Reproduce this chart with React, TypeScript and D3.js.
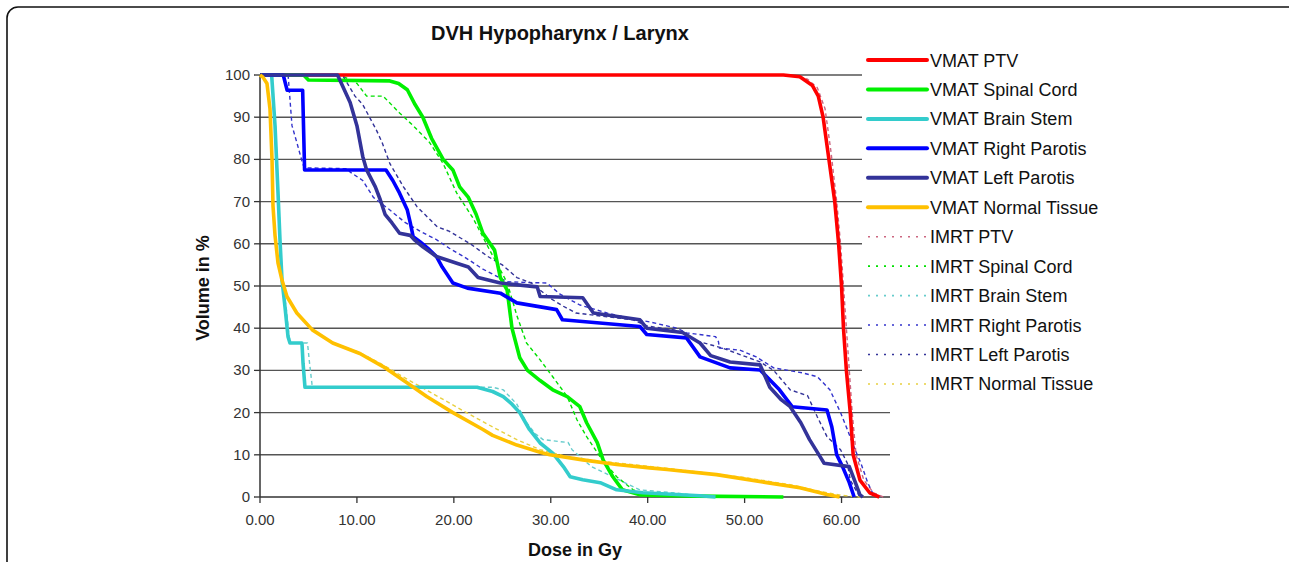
import React from "react";
import * as d3 from "d3";

type P = [number, number];

const xTicks = [0, 10, 20, 30, 40, 50, 60];
const yTicks = [0, 10, 20, 30, 40, 50, 60, 70, 80, 90, 100];

const vmatPtv: P[] = [[0,100],[54,100],[55.7,99.6],[57.0,97.5],[57.6,95],[58.1,90],[58.7,80],[59.3,70],[59.7,60],[60.0,50],[60.2,40],[60.5,30],[60.9,20],[61.2,10],[61.9,4],[62.9,1],[63.9,0]];
const vmatSpinal: P[] = [[0,100],[4.5,100],[5.0,98.8],[13.4,98.6],[14.3,98],[15.2,96.5],[16.0,93],[16.8,90],[17.7,85],[18.9,80],[19.9,77.5],[20.6,73.5],[21.5,71],[22.3,67],[23.0,62.5],[24.2,58.5],[24.8,52],[25.5,49],[26.0,40],[26.8,33],[27.6,30],[28.9,27.6],[30.2,25.4],[31.7,23.8],[33.0,21.4],[33.7,17.6],[34.8,12.9],[35.4,8.8],[36.4,4.8],[37.4,1.7],[39.2,0.5],[45,0.2],[54,0]];
const vmatBrain: P[] = [[0,100],[1.2,100],[1.55,88],[1.86,72],[2.06,61],[2.27,51.4],[2.58,45],[2.89,38],[3.09,36.5],[4.33,36.5],[4.44,31.7],[4.64,26],[22.4,26],[24.0,25],[25.1,23.8],[26.0,22],[26.8,20],[27.8,16],[28.9,12.8],[30.2,10.4],[31.3,7.2],[32.0,4.8],[33.3,4.1],[35.1,3.4],[36.8,1.7],[39.5,1],[45.4,0.3],[47,0]];
const vmatRightPar: P[] = [[0,100],[2.4,100],[2.8,96.4],[4.4,96.4],[4.6,77.5],[13.0,77.5],[13.7,75],[14.4,72],[15.2,68],[15.5,65],[15.8,61.7],[16.5,60.5],[17.3,59],[18.2,57],[18.8,54.5],[19.9,50.7],[21.4,49.5],[24.8,48.3],[26.5,46],[30.6,44.4],[31.2,42],[39.2,40.4],[39.9,38.5],[44.0,37.7],[45.4,33.2],[48.5,30.6],[51.6,30.1],[53.6,25.4],[54.9,21.4],[58.5,20.6],[59.0,16.6],[59.5,10],[60.1,7.2],[60.8,3.4],[61.3,0]];
const vmatLeftPar: P[] = [[0,100],[8.0,100],[9.3,93.5],[10.0,88],[10.6,80.7],[11.0,77.5],[11.9,73.5],[12.4,70.5],[12.9,67],[13.6,65],[14.4,62.5],[15.5,62],[15.9,61],[16.8,59.3],[18.2,57],[20.3,55.4],[21.5,54.5],[22.5,52],[24.8,50.7],[28.6,49.8],[28.9,47.5],[33.3,47.2],[34.4,43.6],[39.2,42],[39.9,40],[43.6,39],[45.4,36.5],[46.5,33.5],[48.5,32],[51.6,31.3],[52.6,26],[53.8,23],[54.7,21.4],[55.8,17.6],[56.7,13.6],[57.8,9.5],[58.2,8],[60.8,7.2],[61.5,3],[61.9,0.5],[62.2,0]];
const vmatNormal: P[] = [[0,100],[0.3,99.5],[0.72,98],[1.03,92],[1.24,80],[1.34,69],[1.55,62],[1.86,55.4],[2.27,51.4],[2.78,47.5],[3.8,43.6],[5.4,39.6],[7.5,36.5],[10.3,34],[12.7,30.9],[15.2,27],[17.2,23.8],[19.9,20],[23.0,16.0],[24.0,14.6],[26.5,12.3],[28.9,10.6],[29.9,10],[33.3,8.8],[36.8,7.7],[40.2,6.9],[42.0,6.5],[47.1,5.3],[52.3,3.4],[55.7,2.2],[58.5,0.6],[59.8,0]];

const imrtPtv: P[] = [[0,100],[54.5,100],[56.5,99],[57.5,97],[58.3,92],[58.9,82],[59.5,70],[59.9,60],[60.2,50],[60.5,40],[60.8,30],[61.1,20],[61.5,10],[62.3,4],[63.3,1],[64.3,0]];
const imrtSpinal: P[] = [[0,100],[8.3,100],[10.0,98],[11.0,95],[12.7,95],[14.4,91],[15.8,88],[17.5,84],[18.9,79],[20.3,72],[22.0,66],[23.7,58.5],[25.5,50.8],[26.5,43],[27.5,36.5],[28.9,32.5],[30.2,28.5],[31.7,23.8],[32.7,18.3],[33.7,14.3],[35.1,9.5],[36.8,4.8],[38.5,1.7],[40.5,0]];
const imrtBrain: P[] = [[0,100],[1.25,100],[1.6,88],[1.9,72],[2.1,61],[2.3,51],[2.7,45],[3.0,38],[3.15,36.5],[4.9,36.5],[5.1,32],[5.3,28],[5.4,26],[24.0,26],[25.1,25.4],[26.5,22],[27.5,17.6],[28.4,15],[29.2,13.6],[31.8,12.9],[32.2,11.2],[34.2,7.2],[37.0,4.1],[39.2,1.7],[42.6,1],[45.4,0.3],[47,0]];
const imrtRightPar: P[] = [[0,100],[2.9,100],[3.1,94],[3.3,88],[3.8,84],[4.4,79],[4.6,78],[9.0,77.8],[9.3,77],[10.6,75],[11.7,71],[13.4,68],[15.0,65],[16.5,63],[18.2,61],[19.5,59],[21,57],[23,54],[25.5,51],[29.6,50.7],[31,48],[33,45.5],[35.8,43.6],[38,42.4],[40.2,41.5],[43,40],[44,38.9],[47,38],[47.3,36.8],[47.4,35.3],[49.5,34.8],[51.2,33.2],[53,30.6],[56,29.4],[57.5,28.5],[58.8,25.4],[59.9,20],[60.6,16],[61.4,11.2],[62.0,8],[62.7,3.4],[63.4,0]];
const imrtLeftPar: P[] = [[0,100],[8.5,100],[9.8,95],[10.6,93],[12.0,87],[12.6,84],[13.4,79],[14.8,73.5],[16.2,68.8],[18.3,64],[19.5,63],[21.7,60],[23.5,57],[25,55],[26.5,52],[28,50.7],[30,47],[31.3,45.2],[32.6,43.6],[35.8,42.7],[38.5,42],[40,40.5],[43,39.5],[45,37],[47.7,35.3],[51.6,32],[53,30],[54.7,25.4],[56.5,24],[57.5,19],[58.5,14.3],[59.9,11.2],[60.6,8],[60.9,4],[61.9,0]];
const imrtNormal: P[] = [[0,100],[0.3,99.5],[0.72,98],[1.03,92],[1.24,80],[1.34,69],[1.55,62],[1.9,55],[2.3,51],[2.8,47.5],[3.8,43.6],[5.4,39.6],[7.5,36.6],[10.3,34.2],[12.7,31.3],[15.2,27.9],[18.6,23.5],[21.3,20],[24.0,16.6],[26.5,13.6],[28.9,11.2],[31.6,9.6],[35,8.5],[40,7.3],[45,6.0],[50,4.6],[55,2.8],[58,1.2],[60,0.4],[62,0]];

const seriesNames = ["VMAT PTV","VMAT Spinal Cord","VMAT Brain Stem","VMAT Right Parotis","VMAT Left Parotis","VMAT Normal Tissue","IMRT PTV","IMRT Spinal Cord","IMRT Brain Stem","IMRT Right Parotis","IMRT Left Parotis","IMRT Normal Tissue"];
const seriesData = [vmatPtv, vmatSpinal, vmatBrain, vmatRightPar, vmatLeftPar, vmatNormal, imrtPtv, imrtSpinal, imrtBrain, imrtRightPar, imrtLeftPar, imrtNormal];
const seriesColors = ["#FF0000","#00F000","#33CCCC","#0000FF","#333399","#FFC000","#CC6680","#00E000","#66CCCC","#3333CC","#333399","#E8D040"];
const drawOrder = [6, 7, 8, 9, 10, 11, 0, 1, 2, 3, 4, 5];

export default function App() {
  const W = 1289, H = 562;
  const left = 260, right = 890, top = 75, bottom = 497;
  const x = d3.scaleLinear().domain([0, 65]).range([left, right]);
  const y = d3.scaleLinear().domain([0, 100]).range([bottom, top]);
  const line = d3.line<P>().x(d => x(d[0])).y(d => y(d[1]));
  const legX = 862, legY = 45, legW = 252, legH = 352;
  const font = "Arial, 'Liberation Sans', sans-serif";
  const rowY = (i: number) => 60 + i * 29.45;

  return (
    <svg width={W} height={H} style={{ position: "absolute", left: 0, top: 0, background: "#fff" }} fontFamily={font}>
      <rect x={7} y={7} width={1295} height={600} rx={11} fill="#fff" stroke="#111" strokeWidth={1.6} />
      <text x={560} y={40} textAnchor="middle" fontSize={20} fontWeight="bold" fill="#111">DVH Hypopharynx / Larynx</text>
      {yTicks.filter(t => t > 0).map(t => {
        const yy = y(t);
        const endX = yy >= legY && yy <= legY + legH ? legX : right;
        return <line key={"g" + t} x1={left} x2={endX} y1={yy} y2={yy} stroke="#555" strokeWidth={1.4} />;
      })}
      <line x1={left} x2={right} y1={bottom} y2={bottom} stroke="#333" strokeWidth={1.5} />
      <line x1={left} x2={left} y1={top} y2={bottom} stroke="#333" strokeWidth={1.5} />
      {yTicks.map(t => (
        <g key={"yt" + t}>
          <line x1={left - 6} x2={left} y1={y(t)} y2={y(t)} stroke="#333" strokeWidth={1.3} />
          <text x={250} y={y(t) + 5} textAnchor="end" fontSize={15} fill="#333">{t}</text>
        </g>
      ))}
      {xTicks.map(t => (
        <g key={"xt" + t}>
          <line x1={x(t)} x2={x(t)} y1={bottom} y2={bottom + 6} stroke="#333" strokeWidth={1.3} />
          <text x={x(t)} y={525} textAnchor="middle" fontSize={15} fill="#333">{t.toFixed(2)}</text>
        </g>
      ))}
      <text x={575} y={556} textAnchor="middle" fontSize={18} fontWeight="bold" fill="#111">Dose in Gy</text>
      <text transform={`translate(209,288) rotate(-90)`} textAnchor="middle" fontSize={18} fontWeight="bold" fill="#111">Volume in %</text>
      {drawOrder.map(i => (
        <path key={"s" + i} d={line(seriesData[i]) || ""} fill="none" stroke={seriesColors[i]}
          strokeWidth={i < 6 ? 3.6 : 1.4} strokeDasharray={i < 6 ? undefined : "4,3"}
          strokeLinejoin="round" />
      ))}
      <rect x={legX} y={legY} width={legW} height={legH} fill="#fff" />
      {seriesNames.map((n, i) => (
        <g key={"l" + i}>
          <line x1={868} x2={927} y1={rowY(i)} y2={rowY(i)} stroke={seriesColors[i]}
            strokeWidth={i < 6 ? 4 : 1.6} strokeDasharray={i < 6 ? undefined : "2,6"} strokeLinecap={i < 6 ? "round" : "butt"} />
          <text x={930} y={rowY(i) + 6.5} fontSize={18} fill="#111">{n}</text>
        </g>
      ))}
    </svg>
  );
}
